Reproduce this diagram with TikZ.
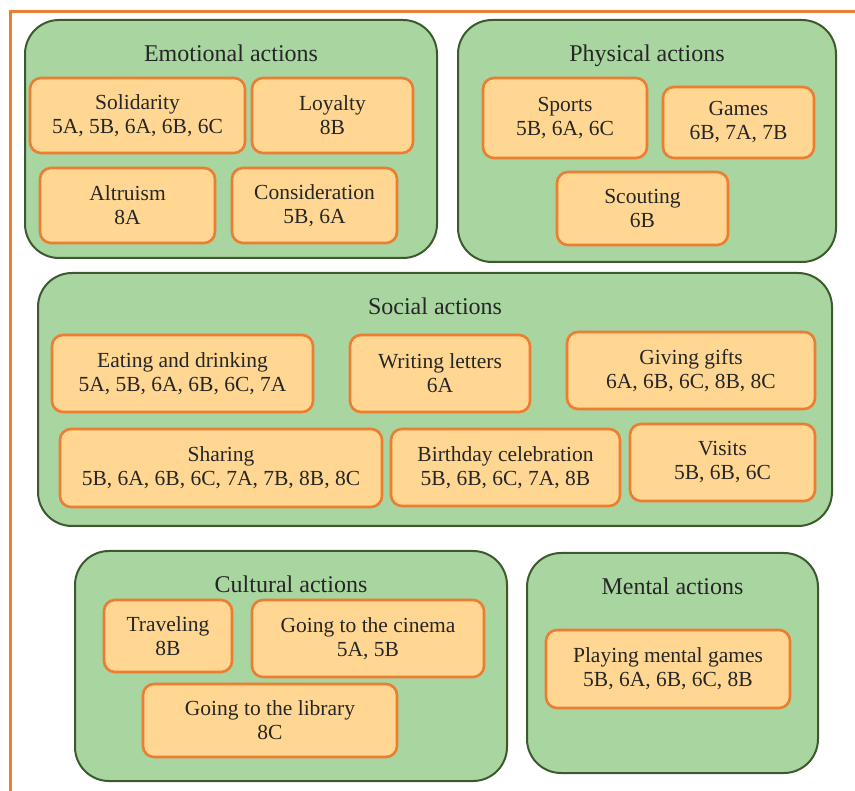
\documentclass[tikz,border=0pt]{standalone}
\usepackage{fontspec}
\setmainfont{Liberation Serif}
\usetikzlibrary{positioning}

\definecolor{groupgreen}{RGB}{168,213,160}
\definecolor{groupedge}{RGB}{60,90,46}
\definecolor{boxfill}{RGB}{255,215,146}
\definecolor{boxedge}{RGB}{237,125,49}

\begin{document}
\begin{tikzpicture}[x=1pt, y=-1pt,
    groupbox/.style={draw=groupedge, line width=2pt, fill=groupgreen, rounded corners=34pt, inner sep=0pt},
    grouptitle/.style={anchor=base, font=\fontsize{24}{28}\selectfont, text=black!85},
    itembox/.style={draw=boxedge, line width=2.6pt, fill=boxfill, rounded corners=11pt,
        align=center, inner sep=0pt, text=black!85, font=\fontsize{21.5}{24}\selectfont}]

    % vaste afmetingen van het plaatje
    \useasboundingbox (0,0) rectangle (855,791);

    % --- Oranje kader (boven en links) ---
    \draw[boxedge, line width=3pt] (10,791) -- (10,12) -- (855,12);

    % --- Groene groepen ---
    % Formaat: naam / x / y / breedte / hoogte / titel
    \foreach \n/\cx/\cy/\w/\h/\t in {
            emo/231/139/412/238/{Emotional actions},
            phys/647/141/378/242/{Physical actions},
            soc/435/399.5/794/253/{Social actions},
            cult/291/666/432/230/{Cultural actions},
            ment/672.5/663/291/220/{Mental actions}} {
            \node[groupbox, minimum width=\w pt, minimum height=\h pt] (\n) at (\cx,\cy) {};
            \node[grouptitle] (\n title) at ([yshift=-43pt]\n.north) {\t};
        }

    % --- Oranje vakjes ---
    % Formaat: naam / x / y / breedte / hoogte / tekst
    \foreach \n/\cx/\cy/\w/\h/\t in {
            sol/137.5/115.5/215/75/{Solidarity\\5A, 5B, 6A, 6B, 6C},
            loy/332.5/115.5/161/75/{Loyalty\\8B},
            alt/127.5/205.5/175/75/{Altruism\\8A},
            con/314.5/205.5/165/75/{Consideration\\5B, 6A},
            spo/565/118/164/80/{Sports\\5B, 6A, 6C},
            gam/738.5/122.5/151/71/{Games\\6B, 7A, 7B},
            sco/642.5/208.5/171/73/{Scouting\\6B},
            eat/182.5/373.5/261/77/{Eating and drinking\\5A, 5B, 6A, 6B, 6C, 7A},
            wri/440/373.5/180/77/{Writing letters\\6A},
            gif/691/370.5/248/77/{Giving gifts\\6A, 6B, 6C, 8B, 8C},
            sha/221/468/322/78/{Sharing\\5B, 6A, 6B, 6C, 7A, 7B, 8B, 8C},
            bir/505.5/467.5/229/77/{Birthday celebration\\5B, 6B, 6C, 7A, 8B},
            vis/722.5/462.5/185/77/{Visits\\5B, 6B, 6C},
            tra/168/636/128/72/{Traveling\\8B},
            cin/368/638.5/232/77/{Going to the cinema\\5A, 5B},
            lib/270/720.5/254/73/{Going to the library\\8C},
            pla/668/669/244/78/{Playing mental games\\5B, 6A, 6B, 6C, 8B}} {
            \node[itembox, minimum width=\w pt, minimum height=\h pt] (\n) at (\cx,\cy) {\t};
        }

\end{tikzpicture}
\end{document}
